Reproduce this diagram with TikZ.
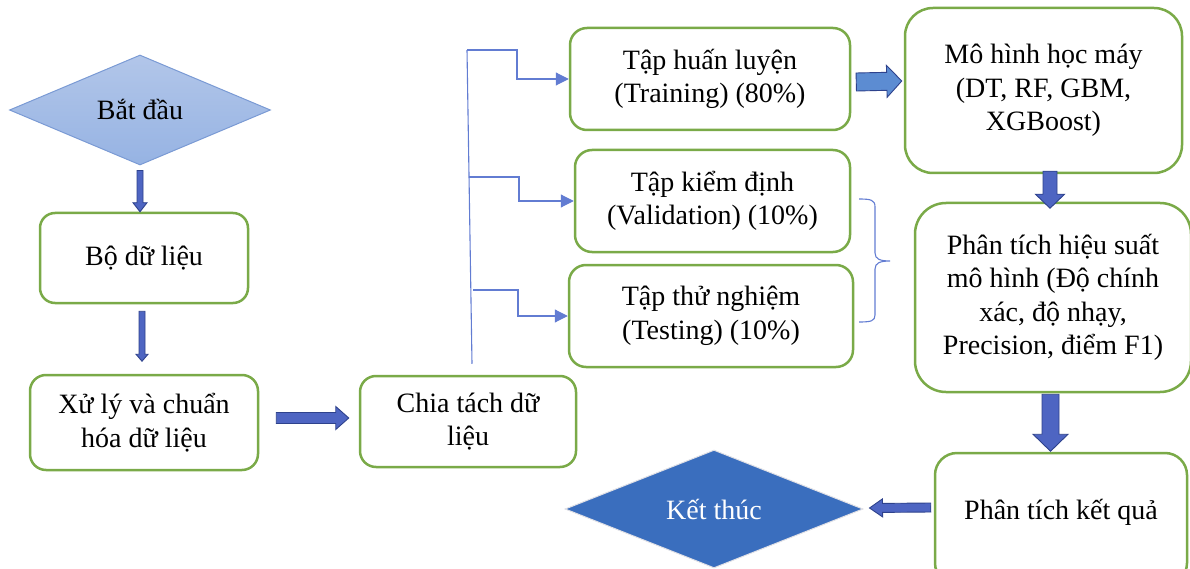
\documentclass[tikz,border=0pt]{standalone}
\usepackage{fontspec}
\setmainfont{Liberation Serif}
\newfontfamily\vnserif{Liberation Serif}
\usetikzlibrary{shapes.geometric,calc,arrows.meta}

\definecolor{boxgreen}{RGB}{122,170,72}
\definecolor{treeblue}{RGB}{98,124,210}
\definecolor{arrfill}{RGB}{78,101,194}
\definecolor{arrline}{RGB}{46,66,140}
\definecolor{arrlight}{RGB}{92,140,210}
\definecolor{startA}{RGB}{178,198,233}
\definecolor{startB}{RGB}{150,179,227}
\definecolor{startline}{RGB}{122,154,212}
\definecolor{endfill}{RGB}{58,110,190}

\tikzset{
  txt/.style={font=\vnserif\fontsize{28}{33.5}\selectfont, align=center},
  box/.style={txt, rectangle, draw=boxgreen, line width=2.5pt, inner sep=0pt},
  barrow/.style={fill=arrfill, draw=arrline, line width=0.9pt, line join=miter},
  tree/.style={draw=treeblue, line width=1.1pt},
  treearr/.style={tree, -{Triangle[length=13pt,width=13pt]}, fill=none},
}

% block arrow: [style]{start}{tip}{half shaft width}{half head width}{head length}
\newcommand\blockarr[6][]{%
  \path (#2) coordinate (ba-s) (#3) coordinate (ba-t);
  \path ($(ba-t)!#6!(ba-s)$) coordinate (ba-h);
  \draw[barrow,#1] ($(ba-s)!#4!90:(ba-t)$) -- ($(ba-h)!#4!-90:(ba-s)$)
     -- ($(ba-h)!#5!-90:(ba-s)$) -- (ba-t) -- ($(ba-h)!#5!90:(ba-s)$)
     -- ($(ba-h)!#4!90:(ba-s)$) -- ($(ba-s)!#4!-90:(ba-t)$) -- cycle;
}

\begin{document}
\begin{tikzpicture}[x=1pt,y=-1pt]
\useasboundingbox (0,0) rectangle (1190,569);

% start / end
\node[txt, diamond, aspect=2.37, minimum width=261pt, minimum height=110pt, inner sep=0pt,
      top color=startA, bottom color=startB, draw=startline, line width=1pt] (bat) at (140,110) {Bắt đầu};
\node[txt, diamond, aspect=2.5, minimum width=298pt, minimum height=118pt, inner sep=0pt,
      fill=endfill, draw={rgb,255:red,225;green,225;blue,230}, line width=1pt, text=white] (ket) at (714,509) {Kết thúc};

% process boxes
\node[box, minimum width=208pt, minimum height=90pt, rounded corners=15pt] (bo) at (144,258) {Bộ dữ liệu};
\node[box, minimum width=228pt, minimum height=95pt, rounded corners=16pt] (xu) at (144,422.5) {Xử lý và chuẩn\\hóa dữ liệu};
\node[box, minimum width=216pt, minimum height=91pt, rounded corners=16pt] (chia) at (468,421.5) {Chia tách dữ\\liệu};
\node[box, minimum width=280pt, minimum height=102pt, rounded corners=17pt] (train) at (710,79) {Tập huấn luyện\\(Training) (80\%)};
\node[box, minimum width=275pt, minimum height=102pt, rounded corners=17pt] (val) at (712.5,201) {Tập kiểm định\\(Validation) (10\%)};
\node[box, minimum width=284pt, minimum height=102pt, rounded corners=17pt] (test) at (711,316) {Tập thử nghiệm\\(Testing) (10\%)};
\node[box, minimum width=277pt, minimum height=165pt, rounded corners=28pt] (mo) at (1043.5,90.5) {Mô hình học máy\\(DT, RF, GBM,\\XGBoost)};
\node[box, minimum width=276pt, minimum height=189pt, rounded corners=31pt] (phan) at (1053,297.5) {Phân tích hiệu suất\\mô hình (Độ chính\\xác, độ nhạy,\\Precision, điểm F1)};
\node[box, minimum width=252pt, minimum height=132pt, rounded corners=22pt, text depth=20pt] (kq) at (1061,519) {Phân tích kết quả};

% block arrows
\blockarr{$(bat.south)+(0,5)$}{bat.south |- bo.north}{3pt}{7pt}{9pt}
\blockarr{$(bo.south)+(-2,7)$}{$(bo.south)+(-2,57)$}{3pt}{6pt}{7pt}
\blockarr{$(xu.east)+(17,-4.5)$}{$(chia.west)+(-10,-3.5)$}{5.5pt}{11.5pt}{13pt}
\blockarr[fill=arrlight]{$(train.east)+(5,3)$}{$(mo.west)+(-2,-9.5)$}{9pt}{16pt}{15pt}
\blockarr{$(mo.south)+(6.5,-3)$}{$(mo.south)+(6.5,34)$}{7pt}{14.5pt}{14pt}
\blockarr{$(phan.south)+(-2.5,1)$}{$(phan.south)+(-2.5,58)$}{8.5pt}{17.5pt}{17pt}
\blockarr{$(kq.west)+(-3,-11.5)$}{$(ket.east)+(6,-1)$}{4.5pt}{9pt}{13pt}

% data split tree
\coordinate (spb) at ($(chia.north)+(4,-11)$);
\coordinate (spt) at (467,50);
\coordinate (k1) at (517,50);
\coordinate (j2) at (469,177);
\coordinate (k2) at (519,177);
\coordinate (j3) at (473,290);
\coordinate (k3) at (518,290);
\draw[tree] (spb) -- (spt);
\draw[treearr] (spt) -- (k1) |- (train.west);
\draw[treearr] (j2) -- (k2) |- (val.west);
\draw[treearr] (j3) -- (k3) |- (test.west);

% brace grouping validation and testing
\draw[tree] (859,199) .. controls (871,199) and (875,200) .. (875,207) -- (875,253)
  .. controls (875,259) and (880,261) .. (890,261)
  .. controls (880,261) and (875,263) .. (875,269) -- (875,315)
  .. controls (875,321) and (871,322) .. (859,322);
\end{tikzpicture}
\end{document}
